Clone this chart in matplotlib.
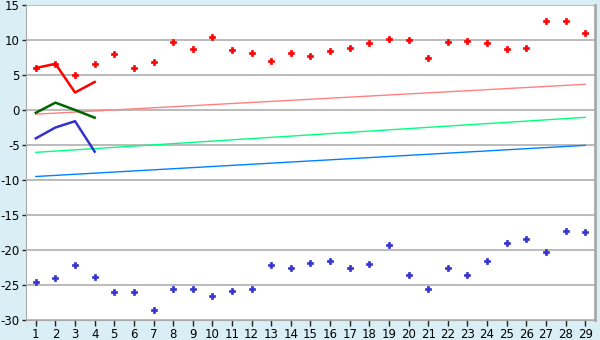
import matplotlib
matplotlib.use("Agg")
import matplotlib.pyplot as plt

plt.rcParams["axes.unicode_minus"] = False

days = list(range(1, 30))

high_pts = [6.0, 6.5, 5.0, 6.5, 8.0, 6.0, 6.8, 9.7, 8.7, 10.4,
            8.5, 8.2, 7.0, 8.2, 7.7, 8.4, 8.8, 9.5, 10.2, 10.0,
            7.4, 9.7, 9.8, 9.5, 8.7, 8.8, 12.7, 12.7, 11.0]
low_pts = [-24.6, -24.05, -22.2, -23.9, -26.05, -26.05, -28.6, -25.6, -25.5, -26.6,
           -25.9, -25.6, -22.2, -22.6, -21.9, -21.6, -22.6, -22.05, -19.3, -23.5,
           -25.5, -22.6, -23.5, -21.6, -19.05, -18.5, -20.3, -17.3, -17.5]

# first four days, measured
line_days = [1, 2, 3, 4]
high_line = [6.0, 6.6, 2.5, 4.0]
mid_line = [-0.4, 1.05, 0.0, -1.1]
low_line = [-4.05, -2.5, -1.6, -5.95]

# trend lines, value at day 1 and day 29
trend_days = [1, 29]
high_trend = [-0.6, 3.67]
mid_trend = [-6.05, -1.05]
low_trend = [-9.5, -5.05]

yticks = [15, 10, 5, 0, -5, -10, -15, -20, -25, -30]

bg = "#daeff5"
grey = "#a8a8a8"

fig = plt.figure(figsize=(6, 3.4), dpi=100, facecolor=bg)
ax = fig.add_axes([26 / 600, 1 - 320 / 340, 569 / 600, 315 / 340])
ax.set_facecolor("white")

for y in yticks:
    ax.axhline(y, color=grey, lw=1.1, zorder=1)

ax.plot(trend_days, high_trend, color="#ff8080", lw=1, zorder=2)
ax.plot(trend_days, mid_trend, color="#00ff80", lw=1, zorder=2)
ax.plot(trend_days, low_trend, color="#0080ff", lw=1, zorder=2)

ax.plot(line_days, high_line, color="#ff0000", lw=1.8, zorder=3)
ax.plot(line_days, mid_line, color="#006400", lw=1.8, zorder=3)
ax.plot(line_days, low_line, color="#3333cc", lw=1.8, zorder=3)

ax.plot(days, high_pts, ls="none", marker="P", ms=4.5, color="#ff0000",
        markeredgewidth=0.5, zorder=4)
ax.plot(days, low_pts, ls="none", marker="P", ms=4.5, color="#3333cc",
        markeredgewidth=0.5, zorder=4)

ax.set_xlim(0.5, 29.5)
ax.set_ylim(-30, 15)
ax.set_xticks(days)
ax.set_yticks(yticks)

ax.spines["top"].set_visible(False)
ax.spines["left"].set_color(grey)
ax.spines["bottom"].set_color(grey)
ax.spines["right"].set_color(grey)
ax.spines["right"].set_linewidth(2)

ax.tick_params(axis="x", length=4, width=1, color="#222222", labelsize=8.5, pad=1.5)
ax.tick_params(axis="y", length=3, width=1, color="#222222", labelsize=8.5, pad=1.5)

fig.savefig("out.png", dpi=100, facecolor=bg)
